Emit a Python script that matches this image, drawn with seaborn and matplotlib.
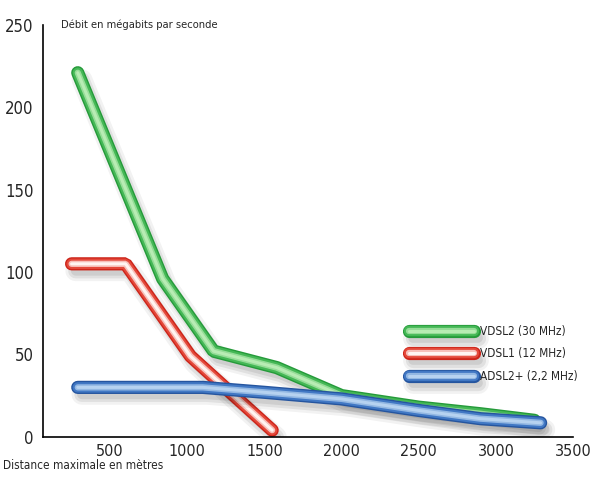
import matplotlib
matplotlib.use("Agg")
import matplotlib.pyplot as plt
import matplotlib.patheffects as pe
import seaborn as sns
import pandas as pd

# données
vdsl2_x = [290, 840, 1170, 1580, 2000, 2500, 2900, 3250]
vdsl2_y = [221, 96, 52, 42, 25, 18, 14, 10]
vdsl1_x = [250, 600, 1020, 1550]
vdsl1_y = [105, 105, 49, 4]
adsl_x = [290, 700, 1100, 1500, 2000, 2500, 2900, 3290]
adsl_y = [30, 30, 30, 27, 23, 16, 11, 8.5]

series = ['VDSL2 (30 MHz)', 'VDSL1 (12 MHz)', 'ADSL2+ (2,2 MHz)']
x_ticks = [500, 1000, 1500, 2000, 2500, 3000, 3500]
y_ticks = [0, 50, 100, 150, 200, 250]

df = pd.concat([
    pd.DataFrame({'x': vdsl2_x, 'y': vdsl2_y, 's': series[0]}),
    pd.DataFrame({'x': vdsl1_x, 'y': vdsl1_y, 's': series[1]}),
    pd.DataFrame({'x': adsl_x, 'y': adsl_y, 's': series[2]}),
])

# couleur extérieure, milieu, reflet
tubes = {
    series[0]: ('#259a3a', '#45b856', '#b8ecb4'),
    series[1]: ('#cc2419', '#e4483a', '#fff4f1'),
    series[2]: ('#25559f', '#4178c4', '#b6d2f0'),
}

sns.set_style('white')
fam = ['DejaVu Sans']

fig = plt.figure(figsize=(6, 4.8), dpi=100)
ax = fig.add_axes([0.072, 0.09, 0.883, 0.858])

sns.lineplot(data=df, x='x', y='y', hue='s', hue_order=series,
             palette={k: v[1] for k, v in tubes.items()},
             sort=False, estimator=None, linewidth=9.5, ax=ax, legend=False)

for line, name in zip(ax.lines, series):
    dark, mid, light = tubes[name]
    line.set_label(name)
    line.set_solid_capstyle('round')
    line.set_solid_joinstyle('bevel')
    line.set_path_effects([
        pe.SimpleLineShadow(offset=(3, -5), shadow_color='k', alpha=0.05, linewidth=15),
        pe.SimpleLineShadow(offset=(3, -5), shadow_color='k', alpha=0.07, linewidth=11),
        pe.SimpleLineShadow(offset=(3, -5), shadow_color='k', alpha=0.08, linewidth=7),
        pe.Stroke(linewidth=9.5, foreground=dark),
        pe.Stroke(linewidth=7.5, foreground=mid),
        pe.Stroke(linewidth=4.5, foreground=light, alpha=0.7),
        pe.Stroke(linewidth=2.2, foreground=light),
    ])

ax.set_xlim(66, 3500)
ax.set_ylim(0, 250)
ax.set_xticks(x_ticks)
ax.set_yticks(y_ticks)
ax.set_xticklabels([str(v) for v in x_ticks], family=fam, fontsize=11.5,
                   fontstretch='condensed')
ax.set_yticklabels([str(v) for v in y_ticks], family=fam, fontsize=12,
                   fontstretch='condensed')
ax.tick_params(axis='x', direction='in', length=8, width=1, pad=5, color='k')
ax.tick_params(axis='y', direction='in', length=13, width=1, pad=7, color='k')

for side in ['top', 'right']:
    ax.spines[side].set_visible(False)
for side in ['left', 'bottom']:
    ax.spines[side].set_color('k')
    ax.spines[side].set_linewidth(1.2)

ax.set_xlabel('')
ax.set_ylabel('')
ax.text(0.033, 1.0, 'Débit en mégabits par seconde', transform=ax.transAxes,
        ha='left', va='center', fontsize=8, family=fam, fontstretch='condensed')
fig.text(0.005, 0.03, 'Distance maximale en mètres', ha='left', va='center',
         fontsize=8.5, family=fam, fontstretch='condensed')

leg = ax.legend(handles=ax.lines, labels=series, loc='lower left',
                bbox_to_anchor=(0.67, 0.105), frameon=False,
                handlelength=5.5, handletextpad=0.55, labelspacing=0.8,
                prop={'family': fam, 'size': 8.5, 'stretch': 'condensed'})

fig.savefig('out.png', dpi=100)
